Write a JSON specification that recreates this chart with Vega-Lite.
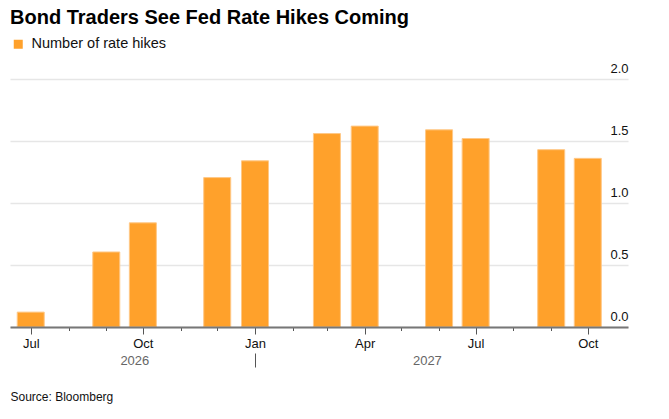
{
  "$schema": "https://vega.github.io/schema/vega-lite/v6.json",
  "autosize": "none",
  "width": 618,
  "height": 248,
  "padding": {"left": 10, "top": 79, "right": 41, "bottom": 92},
  "background": "white",
  "title": {
    "text": "Bond Traders See Fed Rate Hikes Coming",
    "anchor": "start",
    "frame": "group",
    "font": "Liberation Sans",
    "fontSize": 20,
    "fontWeight": "bold",
    "color": "#000000",
    "offset": 9
  },
  "data": {
    "values": [
      {"month": "2026-07-01", "hikes": 0.12},
      {"month": "2026-09-01", "hikes": 0.605},
      {"month": "2026-10-01", "hikes": 0.84},
      {"month": "2026-12-01", "hikes": 1.205},
      {"month": "2027-01-01", "hikes": 1.34},
      {"month": "2027-03-01", "hikes": 1.56},
      {"month": "2027-04-01", "hikes": 1.62},
      {"month": "2027-06-01", "hikes": 1.59},
      {"month": "2027-07-01", "hikes": 1.52},
      {"month": "2027-09-01", "hikes": 1.43},
      {"month": "2027-10-01", "hikes": 1.36}
    ]
  },
  "resolve": {"axis": {"x": "independent"}},
  "layer": [
    {
      "mark": {"type": "bar", "width": 27, "stroke": "#FFC887", "strokeWidth": 1},
      "encoding": {
        "x": {
          "field": "month",
          "type": "temporal",
          "scale": {
            "type": "utc",
            "padding": 0,
            "domain": [
              {"year": 2026, "month": 6, "date": 14, "utc": true},
              {"year": 2027, "month": 11, "date": 3, "utc": true}
            ]
          },
          "axis": {
            "title": null,
            "orient": "bottom",
            "values": [
              {"year": 2026, "month": 7, "date": 1, "utc": true},
              {"year": 2026, "month": 10, "date": 1, "utc": true},
              {"year": 2027, "month": 1, "date": 1, "utc": true},
              {"year": 2027, "month": 4, "date": 1, "utc": true},
              {"year": 2027, "month": 7, "date": 1, "utc": true},
              {"year": 2027, "month": 10, "date": 1, "utc": true}
            ],
            "labelExpr": "utcFormat(datum.value, '%b')",
            "grid": false,
            "domainColor": "#777777",
            "domainWidth": 2,
            "tickColor": "#555555",
            "tickSize": 7,
            "tickWidth": 1,
            "labelFont": "Liberation Sans",
            "labelFontSize": 13,
            "labelColor": "#111111",
            "labelBaseline": "middle",
            "labelPadding": 9,
            "zindex": 1
          }
        },
        "y": {
          "field": "hikes",
          "type": "quantitative",
          "scale": {"domain": [0, 2], "nice": false},
          "axis": {
            "title": null,
            "orient": "right",
            "values": [0, 0.5, 1, 1.5, 2],
            "format": ".1f",
            "domain": false,
            "ticks": false,
            "tickSize": 0,
            "labelAlign": "right",
            "labelPadding": 0,
            "labelBaseline": "alphabetic",
            "labelOffset": -7,
            "labelFont": "Liberation Sans",
            "labelFontSize": 13,
            "labelColor": "#111111",
            "gridColor": "#E6E6E6",
            "gridWidth": 1.5
          }
        },
        "color": {
          "datum": "Number of rate hikes",
          "type": "nominal",
          "scale": {"range": ["#FFA12B"]},
          "legend": {
            "title": null,
            "orient": "none",
            "legendX": 1,
            "legendY": -42,
            "padding": 0,
            "symbolType": "square",
            "symbolSize": 81,
            "symbolStrokeWidth": 0,
            "labelFont": "Liberation Sans",
            "labelFontSize": 14.5,
            "labelColor": "#111111",
            "labelOffset": 6
          }
        }
      }
    },
    {
      "mark": {"type": "point", "opacity": 0},
      "encoding": {
        "x": {
          "field": "month",
          "type": "temporal",
          "axis": {
            "title": null,
            "orient": "bottom",
            "values": [
              {"year": 2026, "month": 8, "date": 1, "utc": true},
              {"year": 2026, "month": 9, "date": 1, "utc": true},
              {"year": 2026, "month": 11, "date": 1, "utc": true},
              {"year": 2026, "month": 12, "date": 1, "utc": true},
              {"year": 2027, "month": 2, "date": 1, "utc": true},
              {"year": 2027, "month": 3, "date": 1, "utc": true},
              {"year": 2027, "month": 5, "date": 1, "utc": true},
              {"year": 2027, "month": 6, "date": 1, "utc": true},
              {"year": 2027, "month": 8, "date": 1, "utc": true},
              {"year": 2027, "month": 9, "date": 1, "utc": true}
            ],
            "labels": false,
            "domain": false,
            "grid": false,
            "tickColor": "#555555",
            "tickSize": 3.5,
            "tickWidth": 1
          }
        }
      }
    },
    {
      "mark": {"type": "point", "opacity": 0},
      "encoding": {
        "x": {
          "field": "month",
          "type": "temporal",
          "axis": {
            "title": null,
            "orient": "bottom",
            "values": [
              {"year": 2026, "month": 9, "date": 24, "utc": true},
              {"year": 2027, "month": 5, "date": 22, "utc": true}
            ],
            "labelExpr": "utcFormat(datum.value, '%Y')",
            "domain": false,
            "grid": false,
            "ticks": false,
            "tickSize": 0,
            "labelFont": "Liberation Sans",
            "labelFontSize": 13,
            "labelColor": "#666666",
            "labelBaseline": "middle",
            "labelPadding": 33
          }
        }
      }
    },
    {
      "mark": {"type": "point", "opacity": 0},
      "encoding": {
        "x": {
          "field": "month",
          "type": "temporal",
          "axis": {
            "title": "Source: Bloomberg",
            "orient": "bottom",
            "titleX": 0,
            "titleY": 47.6,
            "titleAlign": "left",
            "titleAnchor": "start",
            "titleBaseline": "alphabetic",
            "titleFont": "Liberation Sans",
            "titleFontSize": 12,
            "titleFontWeight": "normal",
            "titleColor": "#111111",
            "values": [
              {"year": 2027, "month": 1, "date": 1, "utc": true}
            ],
            "offset": 26,
            "labels": false,
            "domain": false,
            "grid": false,
            "tickColor": "#555555",
            "tickSize": 14,
            "tickWidth": 1
          }
        }
      }
    }
  ],
  "config": {
    "view": {"stroke": null}
  }
}
